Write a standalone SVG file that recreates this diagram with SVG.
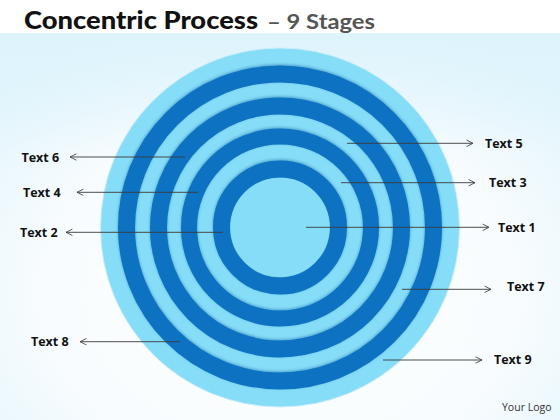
<svg xmlns="http://www.w3.org/2000/svg" width="560" height="420" viewBox="0 0 560 420">
  <defs>
    <radialGradient id="bg" cx="0.5" cy="0.7" r="0.7">
      <stop offset="0" stop-color="#FFFFFF"/>
      <stop offset="0.6" stop-color="#F8FCFE"/>
      <stop offset="1" stop-color="#E2F5FC"/>
    </radialGradient>
    <linearGradient id="topband" x1="0" y1="0" x2="0" y2="1">
      <stop offset="0" stop-color="#DDF3FC" stop-opacity="0.9"/>
      <stop offset="1" stop-color="#DDF3FC" stop-opacity="0"/>
    </linearGradient>
    <filter id="sh" x="-20%" y="-20%" width="140%" height="140%">
      <feDropShadow dx="0" dy="-1" stdDeviation="1.6" flood-color="#04508F" flood-opacity="0.45"/>
    </filter>
    <marker id="arr" viewBox="0 0 10 10" refX="9" refY="5" markerWidth="8" markerHeight="8" orient="auto-start-reverse" markerUnits="userSpaceOnUse">
      <path d="M1,1 L9,5 L1,9" fill="none" stroke="#444" stroke-width="1.1"/>
    </marker>
    <style>
      .lbl { font-family: "Open Sans", "Liberation Sans", sans-serif; font-weight: bold; font-size: 12.5px; fill: #111; }
      .con { stroke: #3a3a3a; stroke-width: 0.9; fill: none; marker-end: url(#arr); }
      .dark { fill: none; stroke: #0A72C2; }
      .light { fill: #86DDF8; }
    </style>
  </defs>
  <rect x="0" y="0" width="560" height="420" fill="url(#bg)"/>
  <rect x="0" y="33" width="560" height="120" fill="url(#topband)"/>
  <rect x="0" y="0" width="560" height="33" fill="#FFFFFF"/>
  <text x="24" y="29" font-family="Lato, 'Open Sans', sans-serif" font-weight="900" font-size="25" fill="#111" textLength="234" lengthAdjust="spacingAndGlyphs">Concentric Process</text>
  <text x="267" y="29" font-family="Lato, 'Open Sans', sans-serif" font-weight="bold" font-size="21" fill="#555" textLength="108" lengthAdjust="spacingAndGlyphs">– 9 Stages</text>

  <g id="rings">
    <circle cx="280" cy="227.5" r="179.5" class="light" stroke="#C9EEF9" stroke-width="1"/>
    <circle cx="280" cy="227.5" r="153.5" class="dark" stroke-width="17" filter="url(#sh)"/>
    <circle cx="280" cy="227.5" r="121.5" class="dark" stroke-width="17" filter="url(#sh)"/>
    <circle cx="280" cy="227.5" r="91" class="dark" stroke-width="16" filter="url(#sh)"/>
    <circle cx="280" cy="227.5" r="58.5" class="dark" stroke-width="17" filter="url(#sh)"/>
    <circle cx="280" cy="227.5" r="49.5" class="light"/>
  </g>

  <g id="connectors">
    <line class="con" x1="185" y1="157" x2="70" y2="157"/>
    <line class="con" x1="198" y1="192.3" x2="77" y2="192.3"/>
    <line class="con" x1="223" y1="232.3" x2="66" y2="232.3"/>
    <line class="con" x1="180" y1="341.7" x2="80" y2="341.7"/>
    <line class="con" x1="347" y1="143.3" x2="473" y2="143.3"/>
    <line class="con" x1="341" y1="182.7" x2="475" y2="182.7"/>
    <line class="con" x1="306" y1="227.3" x2="489" y2="227.3"/>
    <line class="con" x1="402" y1="289.3" x2="491" y2="289.3"/>
    <line class="con" x1="383" y1="360" x2="482" y2="360"/>
  </g>

  <g id="text1"><text class="lbl" x="498" y="231.5">Text 1</text></g>
  <g id="text2"><text class="lbl" x="20" y="236.5">Text 2</text></g>
  <g id="text3"><text class="lbl" x="489" y="187">Text 3</text></g>
  <g id="text4"><text class="lbl" x="23" y="196.5">Text 4</text></g>
  <g id="text5"><text class="lbl" x="485" y="147.5">Text 5</text></g>
  <g id="text6"><text class="lbl" x="21.5" y="161.5">Text 6</text></g>
  <g id="text7"><text class="lbl" x="507" y="290.5">Text 7</text></g>
  <g id="text8"><text class="lbl" x="31" y="346">Text 8</text></g>
  <g id="text9"><text class="lbl" x="494" y="363.5">Text 9</text></g>
  <text x="502" y="411" font-family="'Open Sans', 'Liberation Sans', sans-serif" font-size="10.5" fill="#333">Your Logo</text>
</svg>
